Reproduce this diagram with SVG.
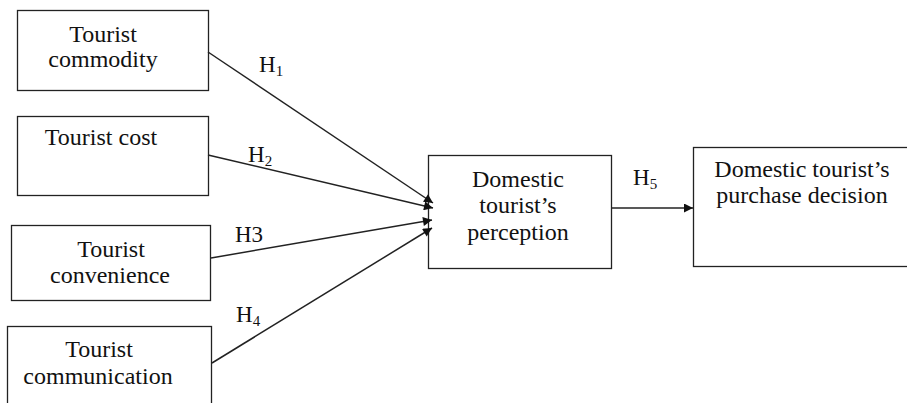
<svg xmlns="http://www.w3.org/2000/svg" width="907" height="403" viewBox="0 0 907 403">
<style>
.box{fill:#fff;stroke:#222;stroke-width:1.3}
.t{font-family:"Liberation Serif","Times New Roman",serif;font-size:24px;fill:#111;text-anchor:middle}
.lbl{font-family:"Liberation Serif","Times New Roman",serif;font-size:23px;fill:#111}
.sub{font-size:15px}
.edge{stroke:#222;stroke-width:1.5;fill:none;marker-end:url(#ah)}
</style>
<defs>
<marker id="ah" viewBox="0 0 10 10" refX="10" refY="5" markerWidth="11" markerHeight="9" markerUnits="userSpaceOnUse" orient="auto">
<path d="M0,0 L10,5 L0,10 z" fill="#111"/>
</marker>
</defs>
<rect width="907" height="403" fill="#fff"/>
<g id="n1"><rect class="box" x="17.5" y="10.5" width="191" height="80"/>
<text class="t" x="103" y="42">Tourist</text><text class="t" x="103" y="67">commodity</text></g>
<g id="n2"><rect class="box" x="17.5" y="116.5" width="191" height="79"/>
<text class="t" x="101" y="145">Tourist cost</text></g>
<g id="n3"><rect class="box" x="11.5" y="225.5" width="199" height="75"/>
<text class="t" x="111" y="257">Tourist</text><text class="t" x="110" y="283">convenience</text></g>
<g id="n4"><rect class="box" x="7.5" y="326.5" width="204" height="90"/>
<text class="t" x="99" y="357">Tourist</text><text class="t" x="98" y="384">communication</text></g>
<g id="n5"><rect class="box" x="428.5" y="155.5" width="183" height="113"/>
<text class="t" x="518" y="187">Domestic</text><text class="t" x="518" y="213">tourist’s</text><text class="t" x="518" y="240">perception</text></g>
<g id="n6"><rect class="box" x="693.5" y="147.5" width="230" height="119"/>
<text class="t" x="802" y="177">Domestic tourist’s</text><text class="t" x="802" y="203">purchase decision</text></g>
<g id="edges">
<line class="edge" x1="208" y1="52" x2="433" y2="203"/>
<line class="edge" x1="208" y1="155" x2="433" y2="208"/>
<line class="edge" x1="211" y1="258" x2="432" y2="220"/>
<line class="edge" x1="212" y1="363" x2="432" y2="228"/>
<line class="edge" x1="612" y1="208" x2="693" y2="208"/>
</g>
<g id="labels">
<text class="lbl" x="259" y="72">H<tspan class="sub" dy="4">1</tspan></text>
<text class="lbl" x="248" y="162">H<tspan class="sub" dy="4">2</tspan></text>
<text class="lbl" x="235" y="242">H3</text>
<text class="lbl" x="236" y="322">H<tspan class="sub" dy="4">4</tspan></text>
<text class="lbl" x="633" y="185">H<tspan class="sub" dy="4">5</tspan></text>
</g>
</svg>
